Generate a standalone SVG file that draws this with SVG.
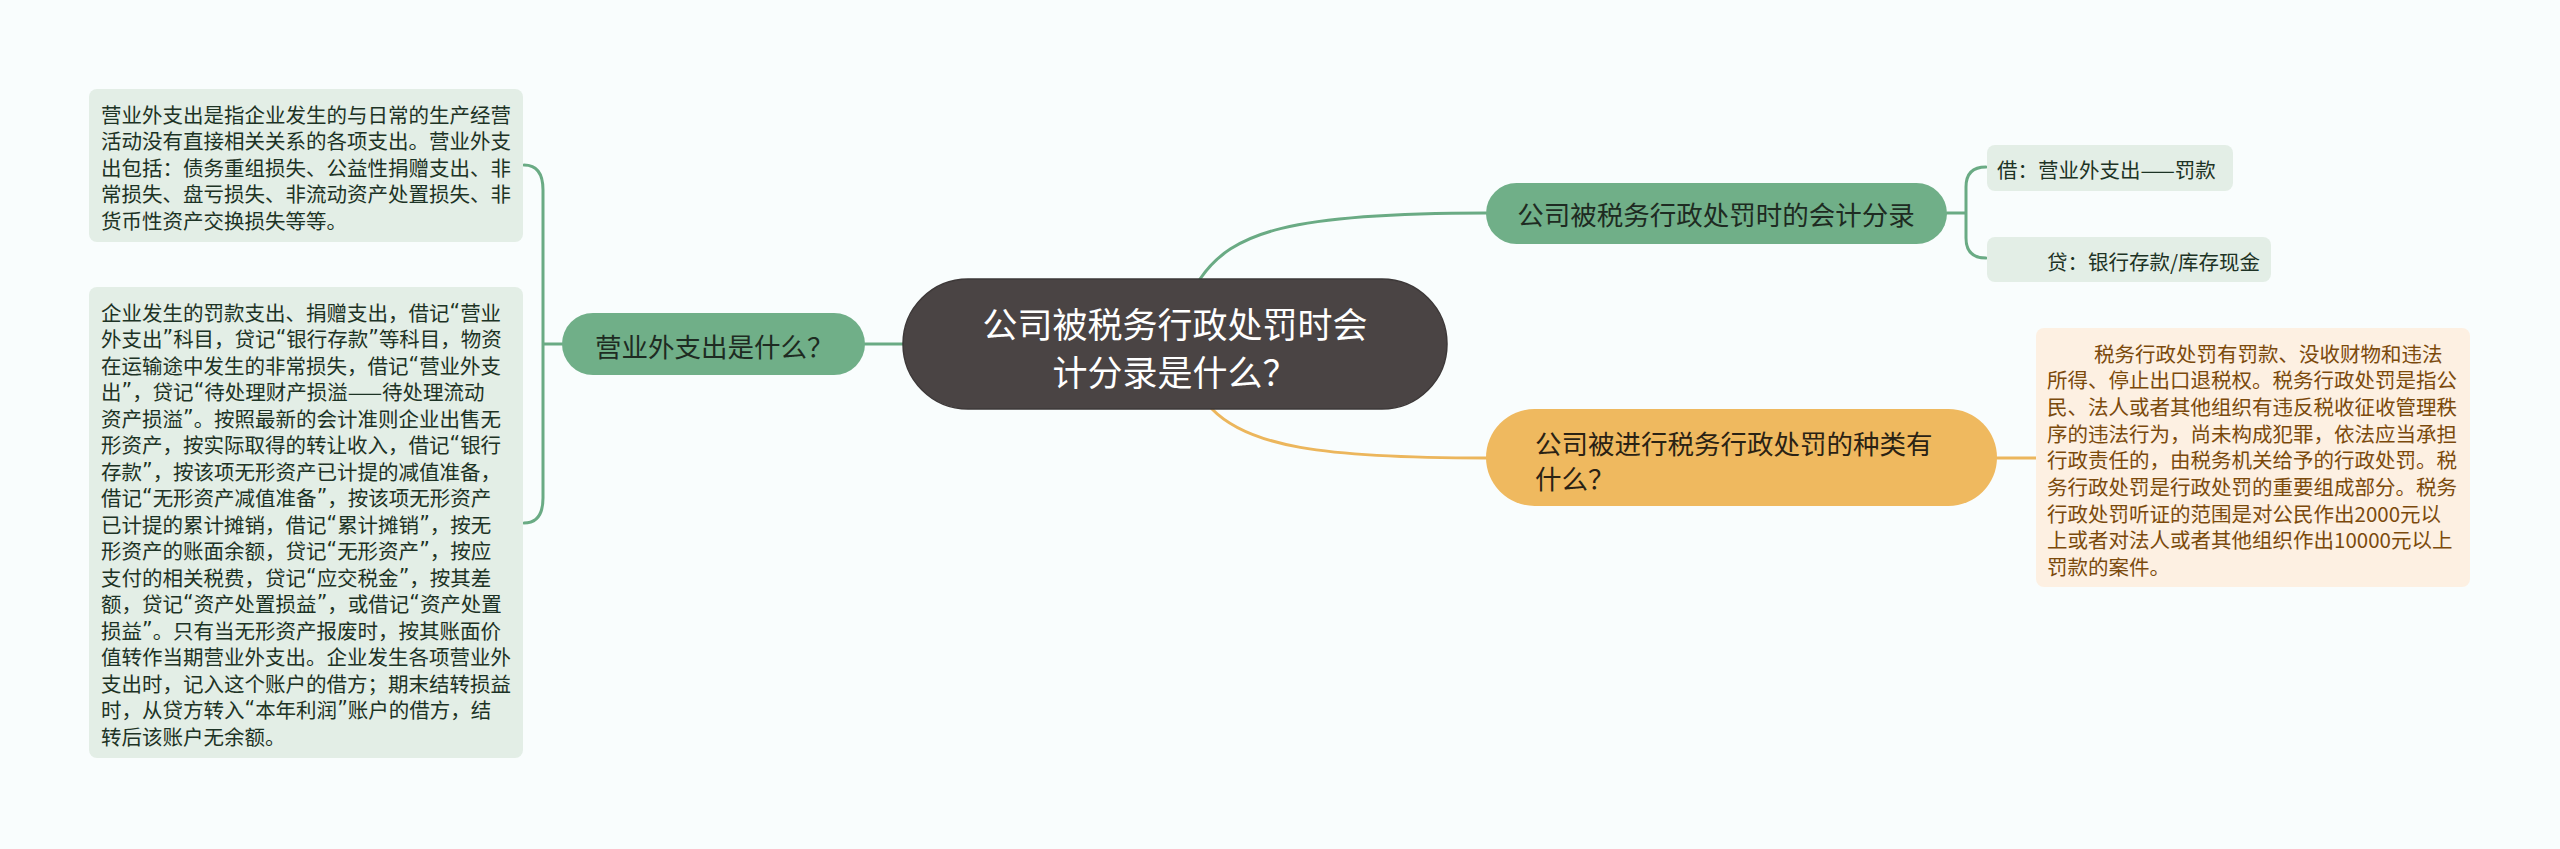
<svg xmlns="http://www.w3.org/2000/svg" width="2560" height="849" viewBox="0 0 2560 849">
<style>
text{font-family:"Noto Sans CJK SC","Noto Sans",sans-serif;dominant-baseline:central}
.q{font-family:"DejaVu Sans","Noto Sans CJK SC",sans-serif}
.conn{fill:none;stroke-width:3;stroke-linecap:round}
.g{stroke:#6aab84}
.o{stroke:#ecb65c}
.leafg{fill:#e3eee6}
.leafo{fill:#fdf0e2}
.tl{font-size:20.5px;fill:#1d3325}
.to{font-size:20.5px;fill:#7b4a0c}
.sub{font-size:26.5px;fill:#1e2b22}
</style>
<rect width="2560" height="849" fill="#f9fdfd"/>
<g id="connectors">
<path class="conn g" d="M865 344 L903 344"/>
<path class="conn g" d="M562 344 L543 344 M543 344 L543 190 Q543 165 524 165 M543 344 L543 498 Q543 523 524 523"/>
<path class="conn g" d="M1200 279 C1232 232 1290 213 1486 213"/>
<path class="conn g" d="M1947 213 L1966 213 M1966 213 L1966 187 Q1966 167 1986 167 M1966 213 L1966 238 Q1966 258 1986 258"/>
<path class="conn o" d="M1212 409 C1248 446 1320 458 1486 458"/>
<path class="conn o" d="M1997 458 L2036 458"/>
</g>
<g id="center">
<rect x="903" y="279" width="544" height="130" rx="65" fill="#4a4444" stroke="#3d3838" stroke-width="1.5"/>
<text x="1175" y="322" text-anchor="middle" style="font-size:35px;fill:#ffffff">公司被税务行政处罚时会</text>
<text x="1175" y="370" text-anchor="middle" style="font-size:35px;fill:#ffffff">计分录是什么？</text>
</g>
<g id="node-left">
<rect x="562" y="313" width="303" height="62" rx="31" fill="#70af88"/>
<text x="595" y="345" class="sub">营业外支出是什么？</text>
</g>
<g id="leaf-left-1">
<rect x="89" y="89" width="434" height="153" rx="8" class="leafg"/>
<text class="tl" x="101" y="113.5">营业外支出是指企业发生的与日常的生产经营</text>
<text class="tl" x="101" y="140">活动没有直接相关关系的各项支出。营业外支</text>
<text class="tl" x="101" y="166.5">出包括：债务重组损失、公益性捐赠支出、非</text>
<text class="tl" x="101" y="193">常损失、盘亏损失、非流动资产处置损失、非</text>
<text class="tl" x="101" y="219.5">货币性资产交换损失等等。</text>
</g>
<g id="leaf-left-2">
<rect x="89" y="287" width="434" height="471" rx="8" class="leafg"/>
<text class="tl" x="101" y="311.5">企业发生的罚款支出、捐赠支出，借记<tspan class="q">“</tspan>营业</text>
<text class="tl" x="101" y="338">外支出<tspan class="q">”</tspan>科目，贷记<tspan class="q">“</tspan>银行存款<tspan class="q">”</tspan>等科目，物资</text>
<text class="tl" x="101" y="364.5">在运输途中发生的非常损失，借记<tspan class="q">“</tspan>营业外支</text>
<text class="tl" x="101" y="391">出<tspan class="q">”</tspan>，贷记<tspan class="q">“</tspan>待处理财产损溢——待处理流动</text>
<text class="tl" x="101" y="417.5">资产损溢<tspan class="q">”</tspan>。按照最新的会计准则企业出售无</text>
<text class="tl" x="101" y="444">形资产，按实际取得的转让收入，借记<tspan class="q">“</tspan>银行</text>
<text class="tl" x="101" y="470.5">存款<tspan class="q">”</tspan>，按该项无形资产已计提的减值准备，</text>
<text class="tl" x="101" y="497">借记<tspan class="q">“</tspan>无形资产减值准备<tspan class="q">”</tspan>，按该项无形资产</text>
<text class="tl" x="101" y="523.5">已计提的累计摊销，借记<tspan class="q">“</tspan>累计摊销<tspan class="q">”</tspan>，按无</text>
<text class="tl" x="101" y="550">形资产的账面余额，贷记<tspan class="q">“</tspan>无形资产<tspan class="q">”</tspan>，按应</text>
<text class="tl" x="101" y="576.5">支付的相关税费，贷记<tspan class="q">“</tspan>应交税金<tspan class="q">”</tspan>，按其差</text>
<text class="tl" x="101" y="603">额，贷记<tspan class="q">“</tspan>资产处置损益<tspan class="q">”</tspan>，或借记<tspan class="q">“</tspan>资产处置</text>
<text class="tl" x="101" y="629.5">损益<tspan class="q">”</tspan>。只有当无形资产报废时，按其账面价</text>
<text class="tl" x="101" y="656">值转作当期营业外支出。企业发生各项营业外</text>
<text class="tl" x="101" y="682.5">支出时，记入这个账户的借方；期末结转损益</text>
<text class="tl" x="101" y="709">时，从贷方转入<tspan class="q">“</tspan>本年利润<tspan class="q">”</tspan>账户的借方，结</text>
<text class="tl" x="101" y="735.5">转后该账户无余额。</text>
</g>
<g id="node-right-1">
<rect x="1486" y="183" width="461" height="61" rx="30.5" fill="#70af88"/>
<text x="1716" y="213.5" text-anchor="middle" class="sub">公司被税务行政处罚时的会计分录</text>
</g>
<g id="leaf-right-1">
<rect x="1987" y="145" width="246" height="46" rx="8" class="leafg"/>
<text class="tl" x="1997" y="169">借：营业外支出——罚款</text>
</g>
<g id="leaf-right-2">
<rect x="1987" y="237" width="284" height="45" rx="8" class="leafg"/>
<text class="tl" x="2047" y="261">贷：银行存款/库存现金</text>
</g>
<g id="node-right-2">
<rect x="1486" y="409" width="511" height="97" rx="48.5" fill="#efb95f"/>
<text x="1535" y="442" class="sub" style="fill:#2a2214">公司被进行税务行政处罚的种类有</text>
<text x="1535" y="477" class="sub" style="fill:#2a2214">什么？</text>
</g>
<g id="leaf-right-3">
<rect x="2036" y="328" width="434" height="259" rx="8" class="leafo"/>
<text class="to" x="2094" y="352.5">税务行政处罚有罚款、没收财物和违法</text>
<text class="to" x="2047" y="379.2">所得、停止出口退税权。税务行政处罚是指公</text>
<text class="to" x="2047" y="405.9">民、法人或者其他组织有违反税收征收管理秩</text>
<text class="to" x="2047" y="432.6">序的违法行为，尚未构成犯罪，依法应当承担</text>
<text class="to" x="2047" y="459.3">行政责任的，由税务机关给予的行政处罚。税</text>
<text class="to" x="2047" y="486">务行政处罚是行政处罚的重要组成部分。税务</text>
<text class="to" x="2047" y="512.7">行政处罚听证的范围是对公民作出2000元以</text>
<text class="to" x="2047" y="539.4">上或者对法人或者其他组织作出10000元以上</text>
<text class="to" x="2047" y="566.1">罚款的案件。</text>
</g>
</svg>
